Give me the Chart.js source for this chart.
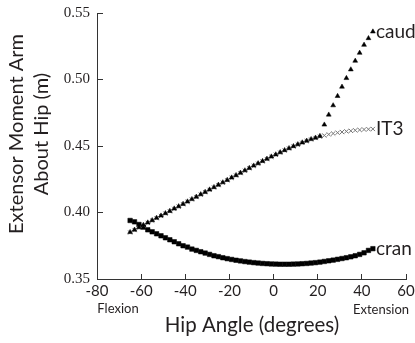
<!DOCTYPE html>
<html>
<head>
<meta charset="utf-8">
<script src="https://cdn.jsdelivr.net/npm/chart.js@4.4.1/dist/chart.umd.min.js"></script>
<style>
  html, body { margin: 0; padding: 0; background: #fff; }
  canvas { display: block; }
</style>
</head>
<body>
<canvas id="hipChart" width="415" height="343"></canvas>
<script>
"use strict";

// hip angle (degrees), sampled every 2 degrees
const hipAngles = [
  -65, -63, -61, -59, -57, -55, -53, -51, -49, -47,
  -45, -43, -41, -39, -37, -35, -33, -31, -29, -27,
  -25, -23, -21, -19, -17, -15, -13, -11, -9, -7,
  -5, -3, -1, 1, 3, 5, 7, 9, 11, 13,
  15, 17, 19, 21, 23, 25, 27, 29, 31, 33,
  35, 37, 39, 41, 43, 45
];

// moment arms (m)
const caudValues = [
  0.3852, 0.3870, 0.3888, 0.3906, 0.3924, 0.3941, 0.3959, 0.3976, 0.3994, 0.4011,
  0.4029, 0.4046, 0.4064, 0.4082, 0.4100, 0.4118, 0.4136, 0.4154, 0.4172, 0.4190,
  0.4208, 0.4226, 0.4244, 0.4262, 0.4280, 0.4298, 0.4316, 0.4334, 0.4352, 0.4369,
  0.4386, 0.4403, 0.4420, 0.4436, 0.4452, 0.4468, 0.4483, 0.4498, 0.4512, 0.4526,
  0.4539, 0.4551, 0.4562, 0.4574, 0.4660, 0.4735, 0.4805, 0.4875, 0.4945, 0.5010,
  0.5075, 0.5140, 0.5200, 0.5260, 0.5310, 0.5360
];

const it3Values = [
  0.3850, 0.3868, 0.3886, 0.3904, 0.3922, 0.3939, 0.3957, 0.3974, 0.3992, 0.4009,
  0.4027, 0.4044, 0.4062, 0.4080, 0.4098, 0.4116, 0.4134, 0.4152, 0.4170, 0.4188,
  0.4206, 0.4224, 0.4242, 0.4260, 0.4278, 0.4296, 0.4314, 0.4332, 0.4350, 0.4367,
  0.4384, 0.4401, 0.4418, 0.4434, 0.4450, 0.4466, 0.4481, 0.4496, 0.4510, 0.4524,
  0.4537, 0.4549, 0.4560, 0.4570, 0.4579, 0.4587, 0.4594, 0.4600, 0.4605, 0.4610,
  0.4614, 0.4618, 0.4621, 0.4624, 0.4626, 0.4628
];

const cranValues = [
  0.3940, 0.3930, 0.3910, 0.3890, 0.3870, 0.3855, 0.3840, 0.3825, 0.3810, 0.3795,
  0.3780, 0.3765, 0.3750, 0.3740, 0.3725, 0.3715, 0.3705, 0.3695, 0.3685, 0.3675,
  0.3668, 0.3660, 0.3653, 0.3647, 0.3641, 0.3636, 0.3631, 0.3627, 0.3623, 0.3620,
  0.3617, 0.3615, 0.3613, 0.3612, 0.3611, 0.3611, 0.3611, 0.3612, 0.3613, 0.3615,
  0.3617, 0.3620, 0.3623, 0.3627, 0.3632, 0.3637, 0.3642, 0.3648, 0.3654, 0.3660,
  0.3667, 0.3675, 0.3685, 0.3697, 0.3715, 0.3728
];

const seriesNames = [`caud`, `IT3`, `cran`];
const xTickValues = [-80, -60, -40, -20, 0, 20, 40, 60];
const yTickValues = [0.35, 0.40, 0.45, 0.50, 0.55];

const sansFont = `Lato, "Open Sans", sans-serif`;
const inkColor = `#231f20`;

const toPoints = (ys) => hipAngles.map((x, i) => ({ x: x, y: ys[i] }));

// text that sits outside the normal axis titles
const extraText = {
  id: `extraText`,
  afterDraw(chart) {
    const ctx = chart.ctx;
    ctx.save();
    ctx.fillStyle = inkColor;
    ctx.textBaseline = `middle`;

    // series names next to the last point of each series
    ctx.font = `19px ${sansFont}`;
    ctx.textAlign = `left`;
    chart.data.datasets.forEach((ds, i) => {
      const meta = chart.getDatasetMeta(i);
      const last = meta.data[meta.data.length - 1];
      ctx.fillText(ds.label, last.x + 3, last.y);
    });

    // y axis title, two lines
    ctx.save();
    ctx.translate(0, 134);
    ctx.rotate(-Math.PI / 2);
    ctx.textAlign = `center`;
    ctx.font = `20px ${sansFont}`;
    ctx.fillText(`Extensor Moment Arm`, 0, 17);
    ctx.fillText(`About Hip (m)`, 0, 42);
    ctx.restore();

    // x axis title and end notes
    ctx.textAlign = `center`;
    ctx.font = `20.5px ${sansFont}`;
    ctx.fillText(`Hip Angle (degrees)`, 252, 325);
    ctx.font = `13px ${sansFont}`;
    ctx.fillText(`Flexion`, 118, 309);
    ctx.fillText(`Extension`, 381, 310);
    ctx.restore();
  }
};

const chartCanvas = document.getElementById(`hipChart`).getContext(`2d`);

const hipChart = new Chart(chartCanvas, {
  type: `scatter`,
  data: {
    datasets: [
      {
        label: seriesNames[0],
        data: toPoints(caudValues),
        pointStyle: `triangle`,
        pointRadius: 2.8,
        backgroundColor: `#000`,
        borderColor: `#000`,
        borderWidth: 0.5
      },
      {
        label: seriesNames[1],
        data: toPoints(it3Values),
        pointStyle: `crossRot`,
        pointRadius: 3,
        backgroundColor: `#777`,
        borderColor: `#777`,
        borderWidth: 1
      },
      {
        label: seriesNames[2],
        data: toPoints(cranValues),
        pointStyle: `rect`,
        pointRadius: 3.2,
        backgroundColor: `#000`,
        borderColor: `#000`,
        borderWidth: 0.5
      }
    ]
  },
  options: {
    responsive: false,
    animation: false,
    events: [],
    layout: { padding: { top: 13, right: 9, left: 0, bottom: 0 } },
    plugins: {
      legend: { display: false },
      tooltip: { enabled: false }
    },
    scales: {
      x: {
        type: `linear`,
        min: -80,
        max: 60,
        afterFit: (scale) => {
          scale.height = 64;
          scale.paddingLeft = 0;
          scale.paddingRight = 0;
        },
        afterBuildTicks: (scale) => {
          scale.ticks = xTickValues.map((v) => ({ value: v }));
        },
        border: { display: true, color: `#333`, width: 1 },
        grid: { drawOnChartArea: false, tickLength: -5, color: `#333` },
        ticks: {
          padding: 8,
          color: inkColor,
          font: { family: sansFont, size: 15 }
        }
      },
      y: {
        type: `linear`,
        min: 0.35,
        max: 0.55,
        afterFit: (scale) => {
          scale.width = 97;
          scale.paddingTop = 0;
          scale.paddingBottom = 0;
        },
        afterBuildTicks: (scale) => {
          scale.ticks = yTickValues.map((v) => ({ value: v }));
        },
        border: { display: true, color: `#333`, width: 1 },
        grid: { drawOnChartArea: false, tickLength: -6, color: `#333` },
        ticks: {
          padding: 13,
          color: inkColor,
          font: { family: `"Liberation Serif", serif`, size: 15 },
          callback: (v) => Number(v).toFixed(2)
        }
      }
    }
  },
  plugins: [extraText]
});
</script>
</body>
</html>
